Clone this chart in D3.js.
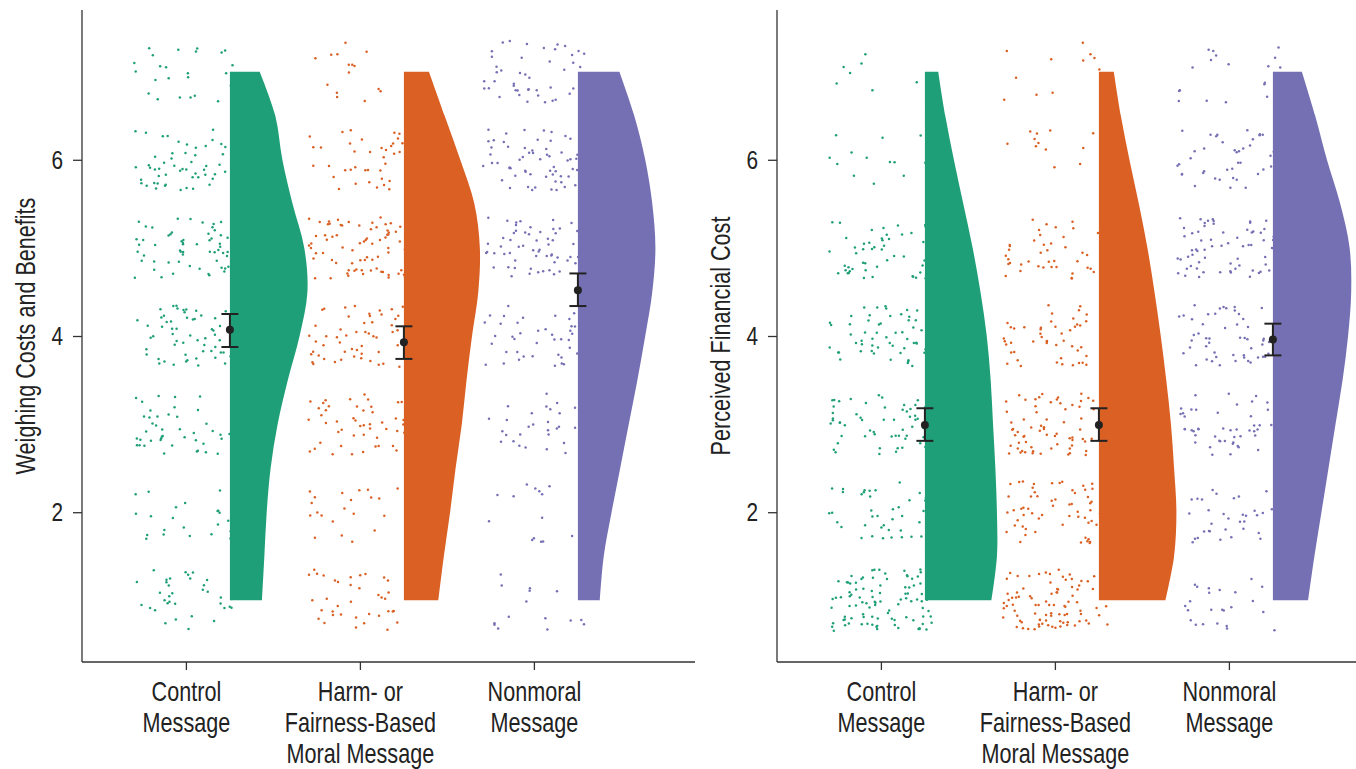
<!DOCTYPE html>
<html>
<head>
<meta charset="utf-8">
<script src="https://cdn.jsdelivr.net/npm/d3@7"></script>
<style>
  html, body { margin: 0; padding: 0; background: #fff; }
  svg text { font-family: "Liberation Sans", Arial, "DejaVu Sans", sans-serif; fill: #222; }
</style>
</head>
<body>
<svg id="chart" width="1356" height="769"></svg>
<script>
// ---------------- DATA ----------------
const categories = ["Control", "Harm", "Nonmoral"];
const categoryLabels = [
  ["Control", "Message"],
  ["Harm- or", "Fairness-Based", "Moral Message"],
  ["Nonmoral", "Message"]
];
const colors = ["#1F9F78", "#DA6024", "#7570B3"];
const yTicks = [2, 4, 6];
const responseLevels = [1, 2, 3, 4, 5, 6, 7];

// Panel A: Weighing Costs and Benefits
const weighingTitle = "Weighing Costs and Benefits";
const weighingCounts = [          // number of responses at levels 1..7
  [35, 25, 45, 60, 65, 55, 25],
  [40, 25, 50, 55, 80, 40, 15],
  [15, 15, 35, 45, 60, 65, 45]
];
const weighingMeans = [4.07, 3.93, 4.52];
const weighingLower = [3.875, 3.74, 4.34];
const weighingUpper = [4.25, 4.11, 4.71];

// Panel B: Perceived Financial Cost
const costTitle = "Perceived Financial Cost";
const costCounts = [
  [95, 40, 60, 60, 55, 14, 8],
  [90, 65, 70, 50, 45, 15, 12],
  [25, 35, 55, 55, 70, 45, 20]
];
const costMeans = [2.99, 2.99, 3.96];
const costLower = [2.81, 2.81, 3.78];
const costUpper = [3.18, 3.18, 4.14];

// Density profiles (relative width) at these response values
const densityGrid = [1, 1.5, 2, 2.5, 3, 3.5, 4, 4.5, 5, 5.5, 6, 6.5, 7];
const weighingDensity = [
  [0.41, 0.44, 0.47, 0.52, 0.61, 0.74, 0.89, 0.99, 0.95, 0.80, 0.67, 0.58, 0.38],
  [0.44, 0.51, 0.59, 0.66, 0.74, 0.80, 0.87, 0.95, 0.97, 0.90, 0.72, 0.52, 0.32],
  [0.28, 0.33, 0.43, 0.54, 0.65, 0.76, 0.86, 0.95, 0.99, 0.95, 0.86, 0.72, 0.53]
];
const costDensity = [
  [0.85, 0.92, 0.92, 0.90, 0.87, 0.84, 0.79, 0.71, 0.61, 0.49, 0.37, 0.26, 0.17],
  [0.85, 0.96, 0.99, 0.96, 0.92, 0.86, 0.79, 0.71, 0.62, 0.51, 0.39, 0.28, 0.19],
  [0.45, 0.53, 0.62, 0.71, 0.80, 0.89, 0.96, 1.00, 0.98, 0.86, 0.69, 0.54, 0.37]
];

// ---------------- LAYOUT ----------------
const svg = d3.select("#chart");
const plotTop = 10, plotBottom = 662;
const y = d3.scaleLinear().domain([0.3, 7.7]).range([plotBottom, plotTop]);
const narrow = 0.8;   // horizontal condensing of the sans font
const axisColor = "#333";

const panels = [
  { left: 82, right: 695, title: weighingTitle, counts: weighingCounts, means: weighingMeans,
    lower: weighingLower, upper: weighingUpper, density: weighingDensity, titleX: 26, seed: 1 },
  { left: 777, right: 1390, title: costTitle, counts: costCounts, means: costMeans,
    lower: costLower, upper: costUpper, density: costDensity, titleX: 721, seed: 5 }
];

const unit = 174;               // px per category step
const violinOffset = 0.25;       // in category units
const violinMax = 0.45;
const jitterW = 0.3, jitterH = 0.35;

// deterministic hash used only to spread (jitter) the points
function hash(n) { const s = Math.sin(n * 12.9898 + 78.233) * 43758.5453; return s - Math.floor(s); }

function condensedText(parent, x0, y0, size, anchor, lines, lineH) {
  const g = parent.append("g").attr("transform", `translate(${x0},${y0}) scale(${narrow},1)`);
  const t = g.append("text").attr("text-anchor", anchor).attr("font-size", size);
  lines.forEach((line, li) => t.append("tspan").attr("x", 0).attr("y", li * (lineH || 0)).text(line));
  return g;
}

panels.forEach((p, pi) => {
  const x = d3.scaleLinear().domain([0.4, 0.4 + (p.right - p.left) / unit]).range([p.left, p.right]);
  const g = svg.append("g");

  // jittered points
  categories.forEach((c, ci) => {
    const pts = [];
    p.counts[ci].forEach((n, li) => {
      for (let j = 0; j < n; j++) {
        const idx = p.seed * 10000 + ci * 1000 + li * 120 + j;
        const u = hash(idx * 1.37 + 0.11);
        const v = hash(idx * 2.91 + 5.73);
        pts.push({ xv: ci + 1 + (u * 2 - 1) * jitterW, yv: responseLevels[li] + (v * 2 - 1) * jitterH });
      }
    });
    g.append("g").selectAll("circle").data(pts).join("circle")
      .attr("cx", d => x(d.xv)).attr("cy", d => y(d.yv)).attr("r", 1.25)
      .attr("fill", colors[ci]);
  });

  // half violins
  categories.forEach((c, ci) => {
    const base = ci + 1 + violinOffset;
    const prof = densityGrid.map((v, i) => ({ v, d: p.density[ci][i] }));
    const area = d3.area()
      .y(d => y(d.v))
      .x0(() => x(base))
      .x1(d => x(base + d.d * violinMax))
      .curve(d3.curveCatmullRom.alpha(0.5));
    g.append("path").datum(prof).attr("d", area).attr("fill", colors[ci]);
  });

  // error bars + means
  categories.forEach((c, ci) => {
    const cx = x(ci + 1 + violinOffset);
    const eg = g.append("g").attr("stroke", "#222").attr("stroke-width", 2);
    eg.append("line").attr("x1", cx).attr("x2", cx).attr("y1", y(p.lower[ci])).attr("y2", y(p.upper[ci]));
    [p.lower[ci], p.upper[ci]].forEach(v => {
      eg.append("line").attr("x1", cx - 8.5).attr("x2", cx + 8.5).attr("y1", y(v)).attr("y2", y(v));
    });
    g.append("circle").attr("cx", cx).attr("cy", y(p.means[ci])).attr("r", 4).attr("fill", "#222");
  });

  // y axis
  const ya = svg.append("g").attr("transform", `translate(${p.left},0)`)
    .call(d3.axisLeft(y).tickValues(yTicks).tickSize(9).tickFormat(""));
  ya.select(".domain").attr("stroke", axisColor).attr("stroke-width", 1.3).attr("d", `M0,${plotTop}V${plotBottom}`);
  ya.selectAll(".tick line").attr("stroke", axisColor).attr("stroke-width", 1.3);
  yTicks.forEach(t => condensedText(svg, p.left - 19, y(t) + 9, 26, "end", [String(t)]));

  // x axis
  const xa = svg.append("g").attr("transform", `translate(0,${plotBottom})`);
  xa.append("line").attr("x1", p.left).attr("x2", p.right).attr("stroke", axisColor).attr("stroke-width", 1.3);
  categories.forEach((c, ci) => {
    const cx = x(ci + 1);
    xa.append("line").attr("x1", cx).attr("x2", cx).attr("y1", 0).attr("y2", 8)
      .attr("stroke", axisColor).attr("stroke-width", 1.3);
    condensedText(xa, cx, 39, 27, "middle", categoryLabels[ci], 31);
  });

  // y title
  const tg = svg.append("g")
    .attr("transform", `translate(${p.titleX + 9},${(plotTop + plotBottom) / 2}) rotate(-90) scale(${narrow},1)`);
  tg.append("text").attr("text-anchor", "middle").attr("font-size", 27).text(p.title);
});
</script>
</body>
</html>
